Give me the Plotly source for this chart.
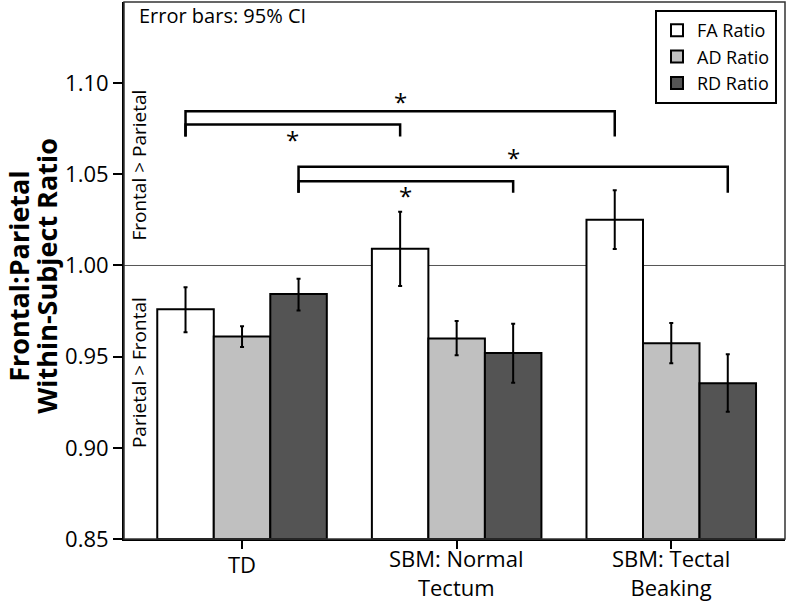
import plotly.graph_objects as go

groups = ["TD", "SBM: Normal<br>Tectum", "SBM: Tectal<br>Beaking"]
series = ["FA Ratio", "AD Ratio", "RD Ratio"]
fa = [0.976, 1.0092, 1.0251]
fa_hi = [0.988, 1.0295, 1.0412]
fa_lo = [0.9634, 0.9887, 1.009]
ad = [0.961, 0.9599, 0.9574]
ad_hi = [0.9667, 0.9696, 0.9684]
ad_lo = [0.9553, 0.9508, 0.9464]
rd = [0.9843, 0.952, 0.9354]
rd_hi = [0.9927, 0.9681, 0.9513]
rd_lo = [0.9753, 0.9357, 0.9198]
colors = ["#ffffff", "#c0c0c0", "#545454"]
y_ticks = [0.85, 0.90, 0.95, 1.00, 1.05, 1.10]

# significance brackets: (series index, group a, group b, level, star side)
brackets = [
    (0, 0, 2, 1.0846, "above"),
    (0, 0, 1, 1.0773, "below"),
    (2, 0, 2, 1.0542, "above"),
    (2, 0, 1, 1.0462, "below"),
]
bracket_bottoms = [1.0707, 1.0707, 1.0399, 1.0399]

FONT = "Open Sans"
xs = [0, 1, 2]
bargap = 0.21
bw = (1 - bargap) / 3

fig = go.Figure()
for name, vals, hi, lo, col in zip(series, [fa, ad, rd], [fa_hi, ad_hi, rd_hi],
                                   [fa_lo, ad_lo, rd_lo], colors):
    fig.add_trace(go.Bar(
        x=xs, y=[v - 0.85 for v in vals], base=0.85, name=name,
        marker=dict(color=col, line=dict(color="black", width=2)),
        error_y=dict(type="data", symmetric=False,
                     array=[h - v for h, v in zip(hi, vals)],
                     arrayminus=[v - l for v, l in zip(vals, lo)],
                     color="black", thickness=2, width=2),
    ))

shapes = [dict(type="line", xref="paper", yref="y", x0=0, x1=1, y0=1.0, y1=1.0,
               line=dict(color="#555555", width=1), layer="below")]
annotations = []
for (s, a, b, lvl, pos), bot in zip(brackets, bracket_bottoms):
    xa = a + (s - 1) * bw
    xb = b + (s - 1) * bw
    shapes.append(dict(type="path", xref="x", yref="y",
                       path=f"M {xa},{bot} L {xa},{lvl} L {xb},{lvl} L {xb},{bot}",
                       line=dict(color="black", width=2.5)))
    annotations.append(dict(x=(xa + xb) / 2, y=lvl, xref="x", yref="y", text="*",
                            showarrow=False, font=dict(family=FONT, size=24, color="black"),
                            yanchor="bottom" if pos == "above" else "top",
                            yshift=-9 if pos == "above" else 4))

for i, g in enumerate(groups):
    if "<br>" in g:
        annotations.append(dict(x=xs[i], y=(539 - 604) / 537, xref="x", yref="paper",
                                text=g, showarrow=False, yanchor="bottom",
                                font=dict(family=FONT, size=22, color="black")))
    else:
        annotations.append(dict(x=xs[i], y=(539 - 564) / 537, xref="x", yref="paper",
                                text=g, showarrow=False, yanchor="middle",
                                font=dict(family=FONT, size=22, color="black")))

annotations += [
    dict(x=0.02, y=0.974, xref="paper", yref="paper", text="Error bars: 95% CI",
         showarrow=False, xanchor="left", yanchor="middle",
         font=dict(family=FONT, size=20, color="black")),
    dict(x=0.0227, y=1.0548, xref="paper", yref="y", text="Frontal > Parietal",
         textangle=-90, showarrow=False, xanchor="center", yanchor="middle",
         font=dict(family=FONT, size=19, color="black")),
    dict(x=0.0227, y=0.941, xref="paper", yref="y", text="Parietal > Frontal",
         textangle=-90, showarrow=False, xanchor="center", yanchor="middle",
         font=dict(family=FONT, size=19, color="black")),
    dict(x=(19 - 124) / 661, y=0.49, xref="paper", yref="paper",
         text="<b>Frontal:Parietal</b>",
         textangle=-90, showarrow=False, xanchor="center", yanchor="middle",
         font=dict(family=FONT, size=27, color="black")),
    dict(x=(47 - 124) / 661, y=0.49, xref="paper", yref="paper",
         text="<b>Within-Subject Ratio</b>",
         textangle=-90, showarrow=False, xanchor="center", yanchor="middle",
         font=dict(family=FONT, size=27, color="black")),
]

fig.update_layout(
    width=792, height=605,
    margin=dict(l=124, r=7, t=2, b=66),
    barmode="group", bargap=bargap, bargroupgap=0,
    plot_bgcolor="white", paper_bgcolor="white",
    font=dict(family=FONT, color="black"),
    shapes=shapes, annotations=annotations,
    showlegend=True,
    legend=dict(x=(777 - 124) / 661, y=(539 - 10) / 537, xanchor="right", yanchor="top",
                bordercolor="black", borderwidth=2, bgcolor="white",
                font=dict(family=FONT, size=18, color="black"),
                itemsizing="constant", tracegroupgap=0),
    xaxis=dict(range=[-0.55, 2.53], tickvals=xs, showticklabels=False,
               ticks="outside", ticklen=8, tickwidth=2, tickcolor="black",
               showline=True, linecolor="black", linewidth=2,
               showgrid=False, zeroline=False, automargin=False),
    yaxis=dict(range=[0.85, 1.1445], tickvals=y_ticks,
               tickformat=".2f", ticks="outside", ticklen=9, tickwidth=2, tickcolor="black",
               showline=True, linecolor="black", linewidth=2,
               showgrid=False, zeroline=False, automargin=False,
               tickfont=dict(family=FONT, size=22, color="black")),
)
# top and right border of the plot frame
fig.add_shape(type="rect", xref="paper", yref="paper", x0=0, x1=1, y0=0, y1=1,
              line=dict(color="#333333", width=1.5), layer="above")

fig.write_html("out.html", config={"displayModeBar": False},
               post_script="document.body.style.margin='0';")
